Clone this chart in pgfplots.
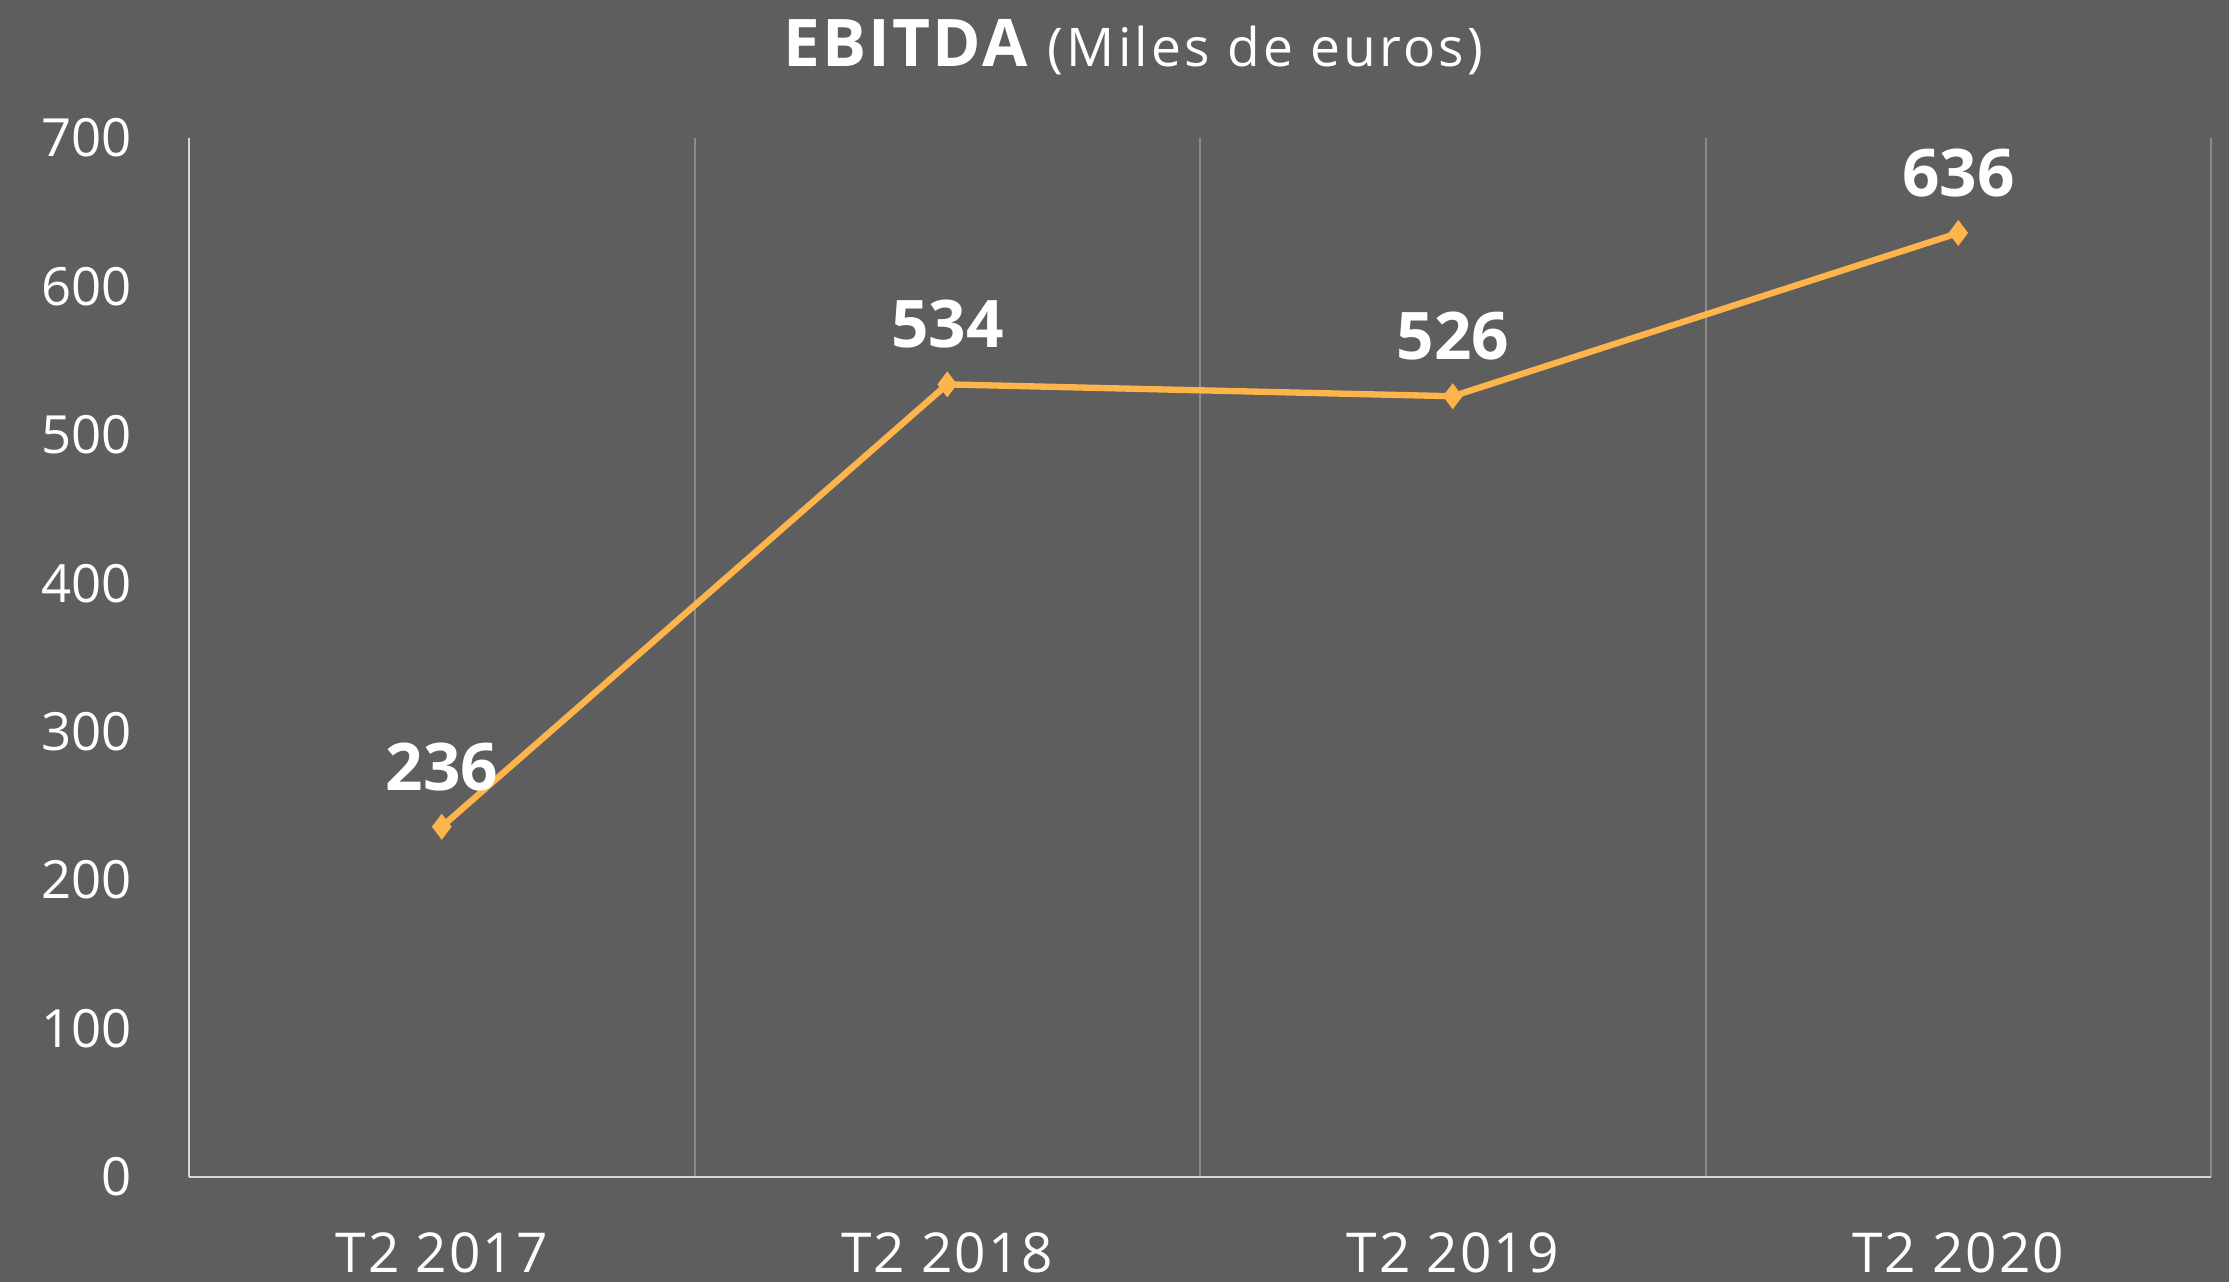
\documentclass[border=0pt]{standalone}
\usepackage{pgfplots}
\pgfplotsset{compat=1.18}
\usepackage{fontspec}
\setmainfont{Open Sans}
\newfontfamily\spaced[LetterSpace=3.5]{Open Sans}
\newfontfamily\spacedb[LetterSpace=6]{Open Sans}
\definecolor{bg}{HTML}{5E5E5E}
\definecolor{ln}{HTML}{FDB44B}
\definecolor{gridc}{HTML}{8A8A8A}
\definecolor{axc}{HTML}{D6D6D6}
\begin{document}
\begin{tikzpicture}
\fill[bg] (-56.7pt,-31.5pt) rectangle (612pt,353.1pt);
\path[use as bounding box] (-56.7pt,-31.5pt) rectangle (612pt,353.1pt);
\begin{axis}[
  scale only axis,
  width=606.6pt, height=311.7pt,
  xmin=-0.5, xmax=3.5, ymin=0, ymax=700,
  xtick={0,1,2,3},
  xticklabels={T2 2017,T2 2018,T2 2019,T2 2020},
  minor xtick={0.5,1.5,2.5,3.5},
  xminorgrids=true,
  minor x grid style={gridc, line width=0.6pt},
  ytick={0,100,...,700},
  major tick length=0pt, minor tick length=0pt,
  axis x line*=bottom, axis y line*=left,
  axis line style={axc, line width=0.7pt, -},
  tick style={draw=none},
  /pgf/number format/assume math mode=true,
  ticklabel style={text=white, inner sep=0pt},
  yticklabel style={font=\fontsize{15.8}{18}\selectfont, anchor=east, xshift=-17pt},
  xticklabel style={font=\spaced\fontsize{16.5}{18}\selectfont, anchor=north, yshift=-16.5pt},
  clip=false,
]
\addplot[ln, line width=1.9pt, mark=diamond*, mark size=3.5pt,
  mark options={fill=ln, draw=ln, line width=0.5pt},
  nodes near coords,
  every node near coord/.append style={font=\fontsize{19.7}{22}\bfseries\selectfont, text=white, anchor=base, inner sep=0pt, yshift=11pt},
  point meta=explicit symbolic]
  coordinates {(0,236) [236] (1,534) [534] (2,526) [526] (3,636) [636]};
\end{axis}
\node[anchor=base, text=white, inner sep=0pt] at (283.2pt,333pt) {{\spaced\fontsize{19.7}{22}\bfseries\selectfont EBITDA}\hspace{6pt}{\spacedb\fontsize{16}{18}\selectfont(Miles de euros)}};
\end{tikzpicture}
\end{document}
